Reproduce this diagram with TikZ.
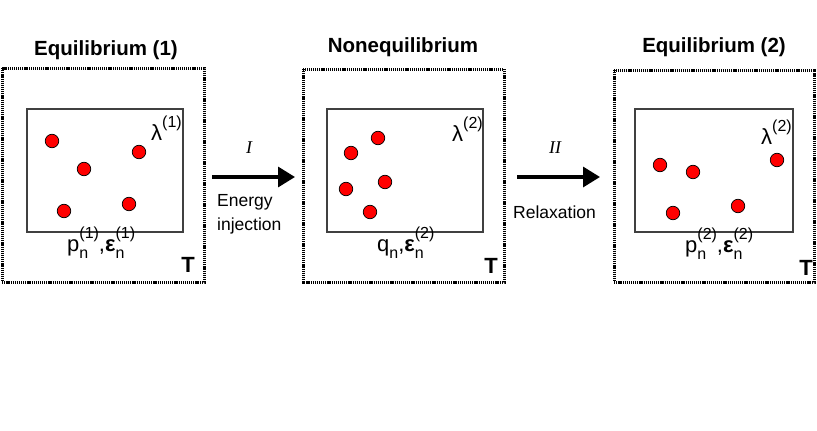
\documentclass[tikz,border=0pt]{standalone}
\usepackage{fontspec}
\setmainfont{Liberation Sans}
\newfontfamily\serifit{Liberation Serif}
\usetikzlibrary{arrows.meta}
\newcommand\scr{\fontsize{16}{16}\selectfont}
\newcommand\sbsp[2]{\rlap{\raisebox{-7pt}{\scr #1}}\raisebox{12.5pt}{\scr #2}}
\newcommand\sbonly[1]{\raisebox{-7pt}{\scr #1}}
\begin{document}
\begin{tikzpicture}[x=1pt,y=-1pt,
  outerbox/.style={line width=3pt, dash pattern=on 1.2pt off 0.9pt, draw=black},
  innerbox/.style={line width=1.1pt, draw=black!75},
  ball/.style={circle, fill=red, draw=black, line width=0.7pt, minimum size=13.5pt, inner sep=0pt},
  ttl/.style={font=\fontsize{20.5}{24}\selectfont\bfseries, anchor=base, inner sep=0pt},
  tlab/.style={font=\fontsize{22}{24}\selectfont\bfseries, anchor=center, inner sep=0pt},
  qlab/.style={font=\fontsize{22}{24}\selectfont, anchor=base west, inner sep=0pt},
  stepname/.style={font=\fontsize{17.5}{24}\selectfont, anchor=base west, inner sep=0pt},
  roman/.style={font=\fontsize{18}{20}\selectfont\serifit\itshape, anchor=base, inner sep=0pt},
  bigarrow/.style={line width=3.3pt, -{Triangle[length=17pt,width=20pt]}}
]
\useasboundingbox (0,0) rectangle (817,431);

% Boxes
\draw[outerbox] (2,68) rectangle (204,282);
\draw[innerbox] (27,109) rectangle (183,232);
\draw[outerbox] (303,69) rectangle (504,282);
\draw[innerbox] (327,109) rectangle (483,232);
\draw[outerbox] (614,70) rectangle (814,282);
\draw[innerbox] (635,109) rectangle (793,232);

% Titles
\node[ttl] (t1) at (106,55) {Equilibrium (1)};
\node[ttl] (t2) at (403,52) {Nonequilibrium};
\node[ttl] (t3) at (714,52) {Equilibrium (2)};

% Balls box 1
\node[ball] (b11) at (52,141) {};
\node[ball] (b12) at (84,169) {};
\node[ball] (b13) at (139,152) {};
\node[ball] (b14) at (64,211) {};
\node[ball] (b15) at (129,204) {};
% Balls box 2
\node[ball] (b21) at (378,138) {};
\node[ball] (b22) at (351,153) {};
\node[ball] (b23) at (385,182) {};
\node[ball] (b24) at (346,189) {};
\node[ball] (b25) at (370,212) {};
% Balls box 3
\node[ball] (b31) at (660,165) {};
\node[ball] (b32) at (693,172) {};
\node[ball] (b33) at (777,160) {};
\node[ball] (b34) at (673,213) {};
\node[ball] (b35) at (738,206) {};

% lambda labels
\node[qlab] (l1) at (151,140) {λ\raisebox{13pt}{\scr(1)}};
\node[qlab] (l2) at (452,141) {λ\raisebox{13pt}{\scr(2)}};
\node[qlab] (l3) at (761,144) {λ\raisebox{13pt}{\scr(2)}};

% state labels
\node[qlab] (s1) at (67,251) {p\sbsp{n}{(1)},\textbf{ε}\sbsp{n}{(1)}};
\node[qlab] (s2) at (377,251) {q\sbonly{n},\textbf{ε}\sbsp{n}{(2)}};
\node[qlab] (s3) at (685,252) {p\sbsp{n}{(2)},\textbf{ε}\sbsp{n}{(2)}};

% T labels
\node[tlab] (T1) at (188,265) {T};
\node[tlab] (T2) at (491,266) {T};
\node[tlab] (T3) at (806,268) {T};

% Arrows
\coordinate (a1s) at (212,177);
\coordinate (a1e) at (295,177);
\coordinate (a2s) at (517,177);
\coordinate (a2e) at (600,177);
\draw[bigarrow] (a1s) -- (a1e);
\draw[bigarrow] (a2s) -- (a2e);

\node[roman] (r1) at (249,153) {I};
\node[roman] (r2) at (555,153) {II};
\node[stepname] (e1) at (217,206) {Energy};
\node[stepname] (e2) at (217,230) {injection};
\node[stepname] (e3) at (513,218) {Relaxation};
\end{tikzpicture}
\end{document}
